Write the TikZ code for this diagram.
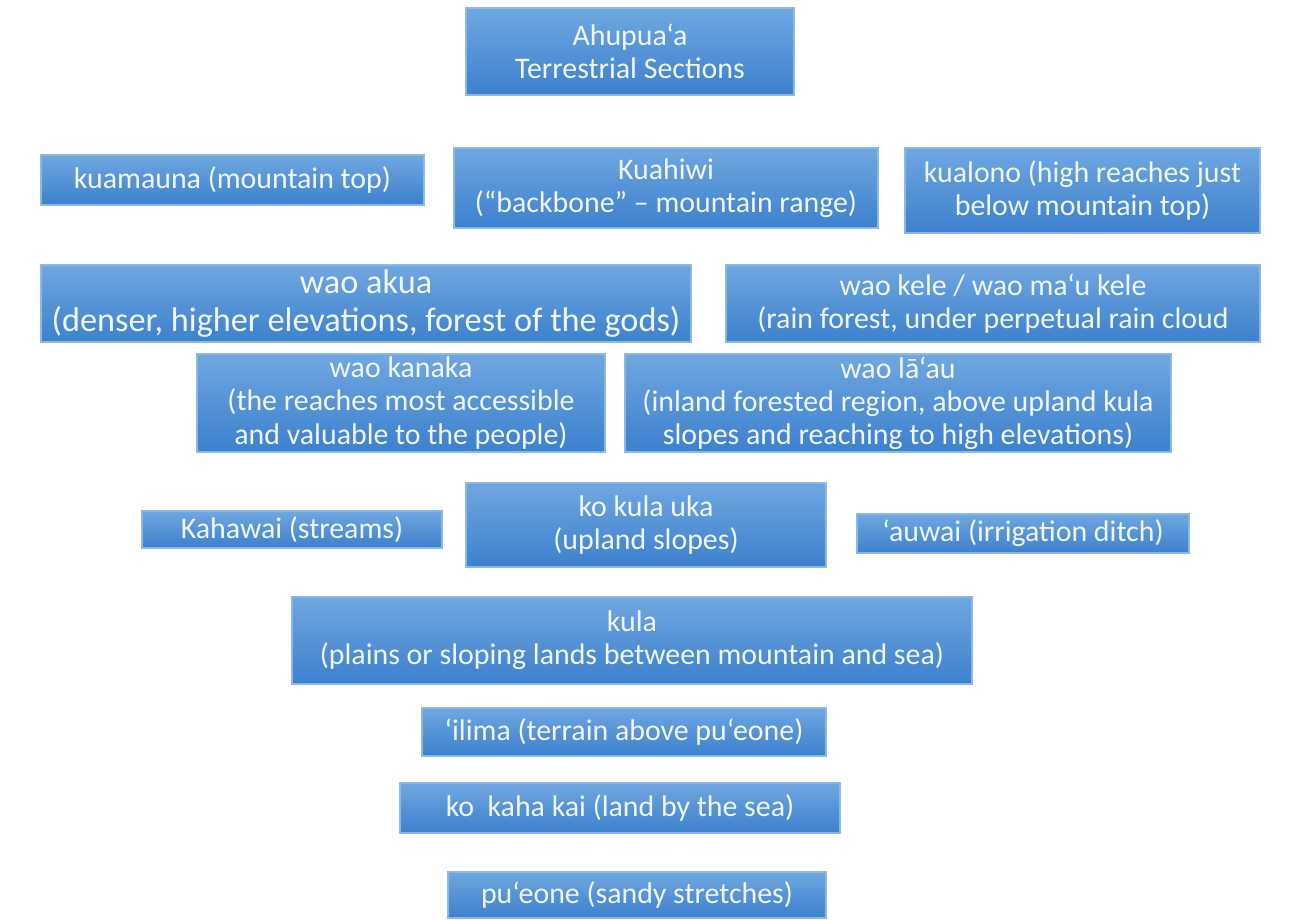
\documentclass[tikz,border=0pt]{standalone}
\usepackage{fontspec}
\setmainfont{Carlito}
\usetikzlibrary{positioning}

\definecolor{boxtop}{HTML}{6FA7E0}
\definecolor{boxbottom}{HTML}{3C80CD}
\definecolor{boxedge}{HTML}{8CB8E6}
\definecolor{boxtext}{HTML}{F2F7FC}

\begin{document}
\begin{tikzpicture}[
        sectionbox/.style={rectangle, draw=boxedge, line width=0.6pt,
            top color=boxtop, bottom color=boxbottom, text=boxtext,
            align=center, inner sep=0pt,
            font=\fontsize{17}{18.8}\selectfont},
        widetext/.style={font=\fontsize{19.5}{21.6}\selectfont}
    ]
        \useasboundingbox (0, 0) rectangle (25.9, -18.38);

        % title
        \node[sectionbox, minimum width=6.56cm, minimum height=1.74cm] (title) at (12.6, -1.03) {Ahupua‘a\\Terrestrial Sections};

        % mountain
        \node[sectionbox, minimum width=7.66cm, minimum height=1.0cm] (kuamauna) at (4.65, -3.6) {kuamauna (mountain top)};
        \node[sectionbox, minimum width=8.48cm, minimum height=1.6cm] (kuahiwi) at (13.32, -3.76) {Kuahiwi\\(“backbone” – mountain range)};
        \node[sectionbox, minimum width=7.1cm, minimum height=1.7cm] (kualono) at (21.65, -3.81) {kualono (high reaches just\\below mountain top)};

        % forests
        \node[sectionbox, widetext, minimum width=13.0cm, minimum height=1.54cm] (waoakua) at (7.32, -6.07) {wao akua\\(denser, higher elevations, forest of the gods)};
        \node[sectionbox, minimum width=10.68cm, minimum height=1.54cm] (waokele) at (19.86, -6.07) {wao kele / wao ma‘u kele\\(rain forest, under perpetual rain cloud};
        \node[sectionbox, minimum width=8.16cm, minimum height=1.96cm] (waokanaka) at (8.02, -8.06) {wao kanaka\\(the reaches most accessible\\and valuable to the people)};
        \node[sectionbox, minimum width=10.92cm, minimum height=1.96cm] (waolaau) at (17.96, -8.06) {wao lā‘au\\(inland forested region, above upland kula\\slopes and reaching to high elevations)};

        % slopes
        \node[sectionbox, minimum width=6.0cm, minimum height=0.74cm] (kahawai) at (5.84, -10.59) {Kahawai (streams)};
        \node[sectionbox, minimum width=7.2cm, minimum height=1.68cm] (kulauka) at (12.92, -10.5) {ko kula uka\\(upland slopes)};
        \node[sectionbox, minimum width=6.64cm, minimum height=0.78cm] (auwai) at (20.46, -10.67) {‘auwai (irrigation ditch)};
        \node[sectionbox, minimum width=13.6cm, minimum height=1.74cm] (kula) at (12.64, -12.81) {kula\\(plains or sloping lands between mountain and sea)};

        % shore
        \node[sectionbox, minimum width=8.08cm, minimum height=0.96cm] (ilima) at (12.48, -14.64) {‘ilima (terrain above pu‘eone)};
        \node[sectionbox, minimum width=8.8cm, minimum height=1.0cm] (kahakai) at (12.4, -16.16) {ko\ \ kaha kai (land by the sea)};
        \node[sectionbox, minimum width=7.56cm, minimum height=0.92cm] (pueone) at (12.74, -17.9) {pu‘eone (sandy stretches)};
    \end{tikzpicture}
\end{document}
